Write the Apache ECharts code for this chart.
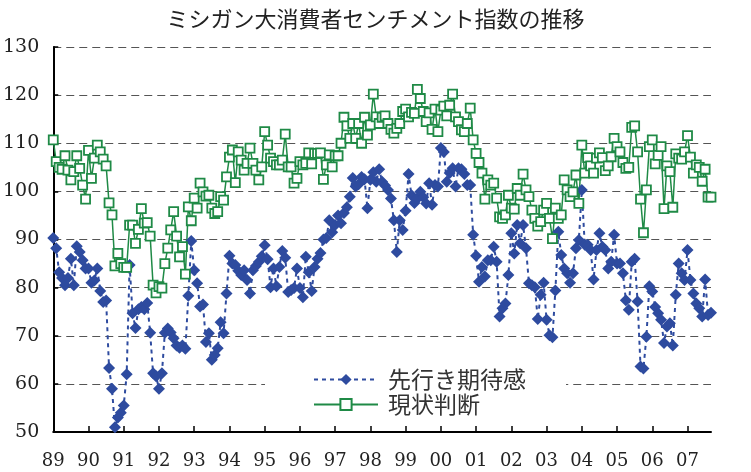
<!DOCTYPE html>
<html>
<head>
<meta charset="utf-8">
<script src="https://cdn.jsdelivr.net/npm/echarts@6/dist/echarts.min.js"></script>
<style>
  html, body { margin: 0; padding: 0; background: #fff; }
  #main { width: 751px; height: 472px; }
</style>
</head>
<body>
<div id="main"></div>
<script>
var startYear = 1989;
var yearLabels = ["89", "90", "91", "92", "93", "94", "95", "96", "97", "98",
  "99", "00", "01", "02", "03", "04", "05", "06", "07"];

// 先行き期待感 (monthly, Jan 1989 - Sep 2007)
var expectation = [
  90.3, 88.2, 83.2, 82, 80.5, 82, 86, 80.5, 88.6, 87.4, 85.7, 84,
  84, 81, 81.5, 84, 79.3, 77, 77.3, 63.3, 59, 51, 53, 54,
  55.5, 62, 84.7, 74.7, 71.6, 75.5, 76, 75.5, 76.8, 70.6, 62.2, 61.6,
  59, 62.2, 70.6, 71.5, 70.7, 69.5, 68, 67.5, 68, 67.3, 78.3, 89.7,
  83.6, 80.9, 76.1, 76.5, 68.7, 70.5, 65, 66, 67.4, 72.8, 70.5, 78.8,
  86.6, 85, 84.7, 83.5, 82.6, 83.6, 81.6, 78.8, 83.6, 84.5, 85.3, 86.5,
  88.8, 85.9, 80.1, 84, 80.3, 84.3, 87.6, 86.2, 79.1, 79.5, 79.9, 84,
  79.9, 78, 86.4, 83.2, 79.3, 84.3, 86, 87.2, 90, 90.3, 94, 91.5,
  93, 95, 93.4, 95.5, 96.7, 98.9, 102.8, 101, 101.5, 103, 102.5, 96.5,
  102.4, 104, 102, 104.6, 102, 101.2, 100.3, 98.5, 94, 87.4, 94, 92,
  96, 103.6, 99.2, 97.6, 98.5, 99.9, 98.8, 97.5, 101.7, 97.2, 101.3, 101,
  109, 108.2, 102, 103.8, 104.8, 101, 104.8, 104.6, 103.6, 101.3, 101.3, 91,
  86.6, 81.2, 84.3, 82.3, 85.7, 85.7, 88.5, 85.4, 74, 75.7, 76.7, 82.6,
  91.3, 87.1, 93, 89.2, 93, 88.2, 80.9, 80.5, 80.1, 73.5, 78.5, 81,
  73.3, 70.1, 69.7, 79.4, 91.6, 86.8, 84, 83, 81, 83, 88.2, 89.9,
  100.3, 88.9, 88.9, 87.8, 81.7, 87.8, 91.3, 88.5, 87.8, 84, 85.4, 91,
  85, 85, 83, 77.4, 75.4, 85.4, 86, 77.1, 63.6, 63.2, 69.8, 80.3,
  79.2, 76, 74.7, 73.3, 68.5, 71.9, 72.6, 68, 78.5, 85, 83, 81.6,
  87.8, 81.6, 78.8, 76.7, 75.7, 74, 81.7, 74.3, 74.8
];

// 現状判断
var current = [
  110.7, 106.2, 105, 104.6, 107.4, 104.4, 102.4, 104.1, 107.4, 104.8, 101.3, 98.4,
  108.5, 102.7, 106.9, 109.6, 108.2, 106.7, 105.3, 97.6, 95.1, 84.5, 87.1, 85,
  84.2, 84.2, 93, 93, 89.2, 92.1, 96.4, 93.4, 93.5, 90.7, 80.5, 78.9,
  80.2, 79.9, 85, 88.2, 92, 95.8, 90.7, 86.4, 88.5, 82.8, 96.8, 93.9,
  98.6, 96.5, 101.7, 99.9, 99, 99.2, 96.5, 95.4, 95.8, 98.9, 98.2, 103,
  107.1, 108.6, 101.8, 108.2, 106.5, 104.4, 105.8, 109, 105.8, 104.4, 102.4, 105.1,
  112.4, 109.6, 106.9, 106.2, 105.5, 105.5, 106.5, 111.9, 105.1, 105.1, 101.7, 102.7,
  106.2, 105.5, 105.8, 108, 105.7, 107.9, 107.9, 108, 102.5, 105.5, 107.6, 105.1,
  107.4, 107.4, 110, 115.4, 113.6, 111, 114.1, 111, 114.1, 110, 115.4, 111.7,
  113.8, 120.2, 115.5, 114.1, 115.4, 115.7, 114.1, 112.9, 112.1, 113.1, 114.1, 116.6,
  117.1, 115.5, 116.4, 116.2, 121.2, 119.3, 116.6, 114.5, 116.3, 112.9, 117.1, 112.4,
  116.9, 117.7, 115.7, 117.9, 120.2, 115.5, 114.5, 112.8, 112.4, 114.1, 117.3, 110.7,
  107.9, 106, 103.8, 98.4, 102.4, 101.3, 101.7, 98.6, 94.7, 94.4, 95.1, 99.2,
  96.5, 96.3, 100.6, 99.2, 103.6, 100.3, 98.9, 96.1, 94.4, 92.8, 93.7, 96.1,
  97.5, 94.4, 90.2, 96.5, 94.4, 95.1, 102.4, 100.3, 98.9, 99.9, 103.4, 97.5,
  109.6, 103.8, 107, 105.3, 103.8, 106.9, 108, 107, 104.3, 105.3, 107.2, 111,
  109.3, 108.2, 106, 104.8, 105, 113.3, 113.6, 108.2, 98.4, 91.4, 100.3, 109.3,
  110.7, 105.7, 107.5, 109.3, 96.4, 105.3, 104.1, 96.7, 107.8, 106.9, 106.7, 108.2,
  111.6, 107.1, 103.8, 105.5, 105, 102.1, 104.6, 98.8, 98.8
];

var months = [];
for (var i = 0; i < expectation.length; i++) {
  var y = startYear + Math.floor(i / 12);
  var m = (i % 12) + 1;
  months.push(y + "/" + (m < 10 ? "0" + m : m));
}

var serifFont = "DejaVu Serif";
var jpFont = "Noto Sans CJK JP";

var myChart = echarts.init(document.getElementById("main"));
var option = {
  animation: false,
  backgroundColor: "#fff",
  title: {
    text: "ミシガン大消費者センチメント指数の推移",
    left: "center",
    top: 3,
    textStyle: { fontFamily: jpFont, fontSize: 22, fontWeight: "normal", color: "#222" }
  },
  legend: {
    orient: "vertical",
    left: 265,
    top: 362,
    padding: [6, 40, 6, 48],
    backgroundColor: "#fff",
    itemWidth: 64,
    itemHeight: 14,
    itemGap: 2,
    textStyle: { fontFamily: jpFont, fontSize: 23, color: "#333", padding: [0, 0, 0, 5] },
    data: ["先行き期待感", "現状判断"]
  },
  grid: { left: 49, right: 40, top: 47, bottom: 40 },
  xAxis: {
    type: "category",
    boundaryGap: false,
    data: months,
    axisLine: { lineStyle: { color: "#000", width: 2 } },
    axisTick: {
      inside: true,
      length: 6,
      interval: function (index) { return index % 12 === 0; },
      lineStyle: { color: "#000", width: 1.5 }
    },
    axisLabel: {
      interval: function (index) { return index % 12 === 0; },
      formatter: function (value) {
        return yearLabels[parseInt(value, 10) - startYear];
      },
      margin: 20,
      fontFamily: serifFont,
      fontSize: 18,
      color: "#222"
    },
    splitLine: { show: false }
  },
  yAxis: {
    type: "value",
    min: 50,
    max: 130,
    interval: 10,
    axisLine: { show: true, lineStyle: { color: "#000", width: 2 } },
    axisTick: { show: true, inside: true, length: 5, lineStyle: { color: "#000", width: 1.5 } },
    axisLabel: { margin: 14, fontFamily: serifFont, fontSize: 19, color: "#222" },
    splitLine: { lineStyle: { color: "#555", width: 1, type: [8, 5] } }
  },
  series: [
    {
      name: "先行き期待感",
      type: "line",
      data: expectation,
      showAllSymbol: true,
      symbol: "diamond",
      symbolSize: 12,
      itemStyle: { color: "#2e4b9f" },
      lineStyle: { color: "#2e4b9f", width: 2, type: [4, 4] }
    },
    {
      name: "現状判断",
      type: "line",
      data: current,
      showAllSymbol: true,
      symbol: "rect",
      symbolSize: 9,
      itemStyle: { color: "#fff", borderColor: "#1f8a46", borderWidth: 1.8 },
      lineStyle: { color: "#1f8a46", width: 1.5 }
    }
  ]
};
myChart.setOption(option);
</script>
</body>
</html>
